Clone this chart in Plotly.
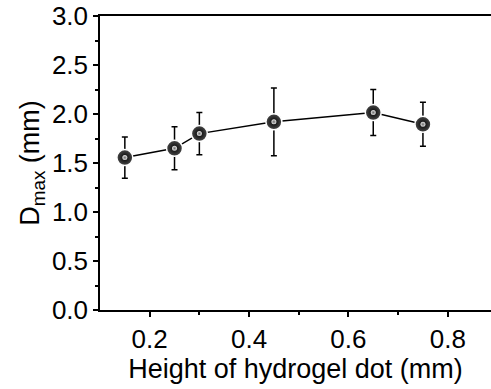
import plotly.graph_objects as go

heights = [0.15, 0.25, 0.30, 0.45, 0.65, 0.75]
dmax = [1.555, 1.65, 1.80, 1.92, 2.015, 1.895]
err = [0.21, 0.22, 0.215, 0.345, 0.235, 0.225]

fig = go.Figure()
fig.add_trace(go.Scatter(
    x=heights, y=dmax, mode="lines+markers",
    line=dict(color="black", width=1.5),
    error_y=dict(type="data", array=err, color="black", thickness=1.5, width=3),
    marker=dict(size=16, color="#4a4a4a", gradient=dict(type="radial", color="black"),
                line=dict(color="white", width=1.5)),
    showlegend=False,
))
fig.add_trace(go.Scatter(
    x=heights, y=dmax, mode="markers",
    marker=dict(size=5, color="#e6e6e6", gradient=dict(type="radial", color="#6a6a6a"),
                line=dict(width=0)),
    showlegend=False, hoverinfo="skip",
))

font = "Liberation Sans, Arial, sans-serif"
fig.update_layout(
    width=491, height=389,
    margin=dict(l=100, r=0, t=16, b=79),
    plot_bgcolor="white", paper_bgcolor="white",
    font=dict(family=font, size=26, color="black"),
    xaxis=dict(
        range=[0.1, 0.887], tickvals=[0.2, 0.4, 0.6, 0.8], ticktext=["0.2", "0.4", "0.6", "0.8"],
        ticks="outside", ticklen=5, tickwidth=1.5, tickcolor="black",
        minor=dict(tickvals=[0.3, 0.5, 0.7], ticks="outside", ticklen=3, tickwidth=1.5, tickcolor="black"),
        showline=True, linecolor="black", linewidth=1.5, mirror=True,
        showgrid=False, zeroline=False,
        title=dict(text="Height of hydrogel dot (mm)", font=dict(size=27), standoff=4),
        tickfont=dict(size=26),
    ),
    yaxis=dict(
        range=[0, 3.0], tickvals=[0, 0.5, 1.0, 1.5, 2.0, 2.5, 3.0],
        ticktext=["0.0", "0.5", "1.0", "1.5", "2.0", "2.5", "3.0"],
        ticks="outside", ticklen=5, tickwidth=1.5, tickcolor="black",
        minor=dict(tickvals=[0.25, 0.75, 1.25, 1.75, 2.25, 2.75], ticks="outside", ticklen=3, tickwidth=1.5, tickcolor="black"),
        showline=True, linecolor="black", linewidth=1.5,
        showgrid=False, zeroline=False,
        title=dict(text="D<sub>max</sub> (mm)", font=dict(size=27), standoff=4),
        tickfont=dict(size=26),
    ),
)
fig.write_html("out.html")
